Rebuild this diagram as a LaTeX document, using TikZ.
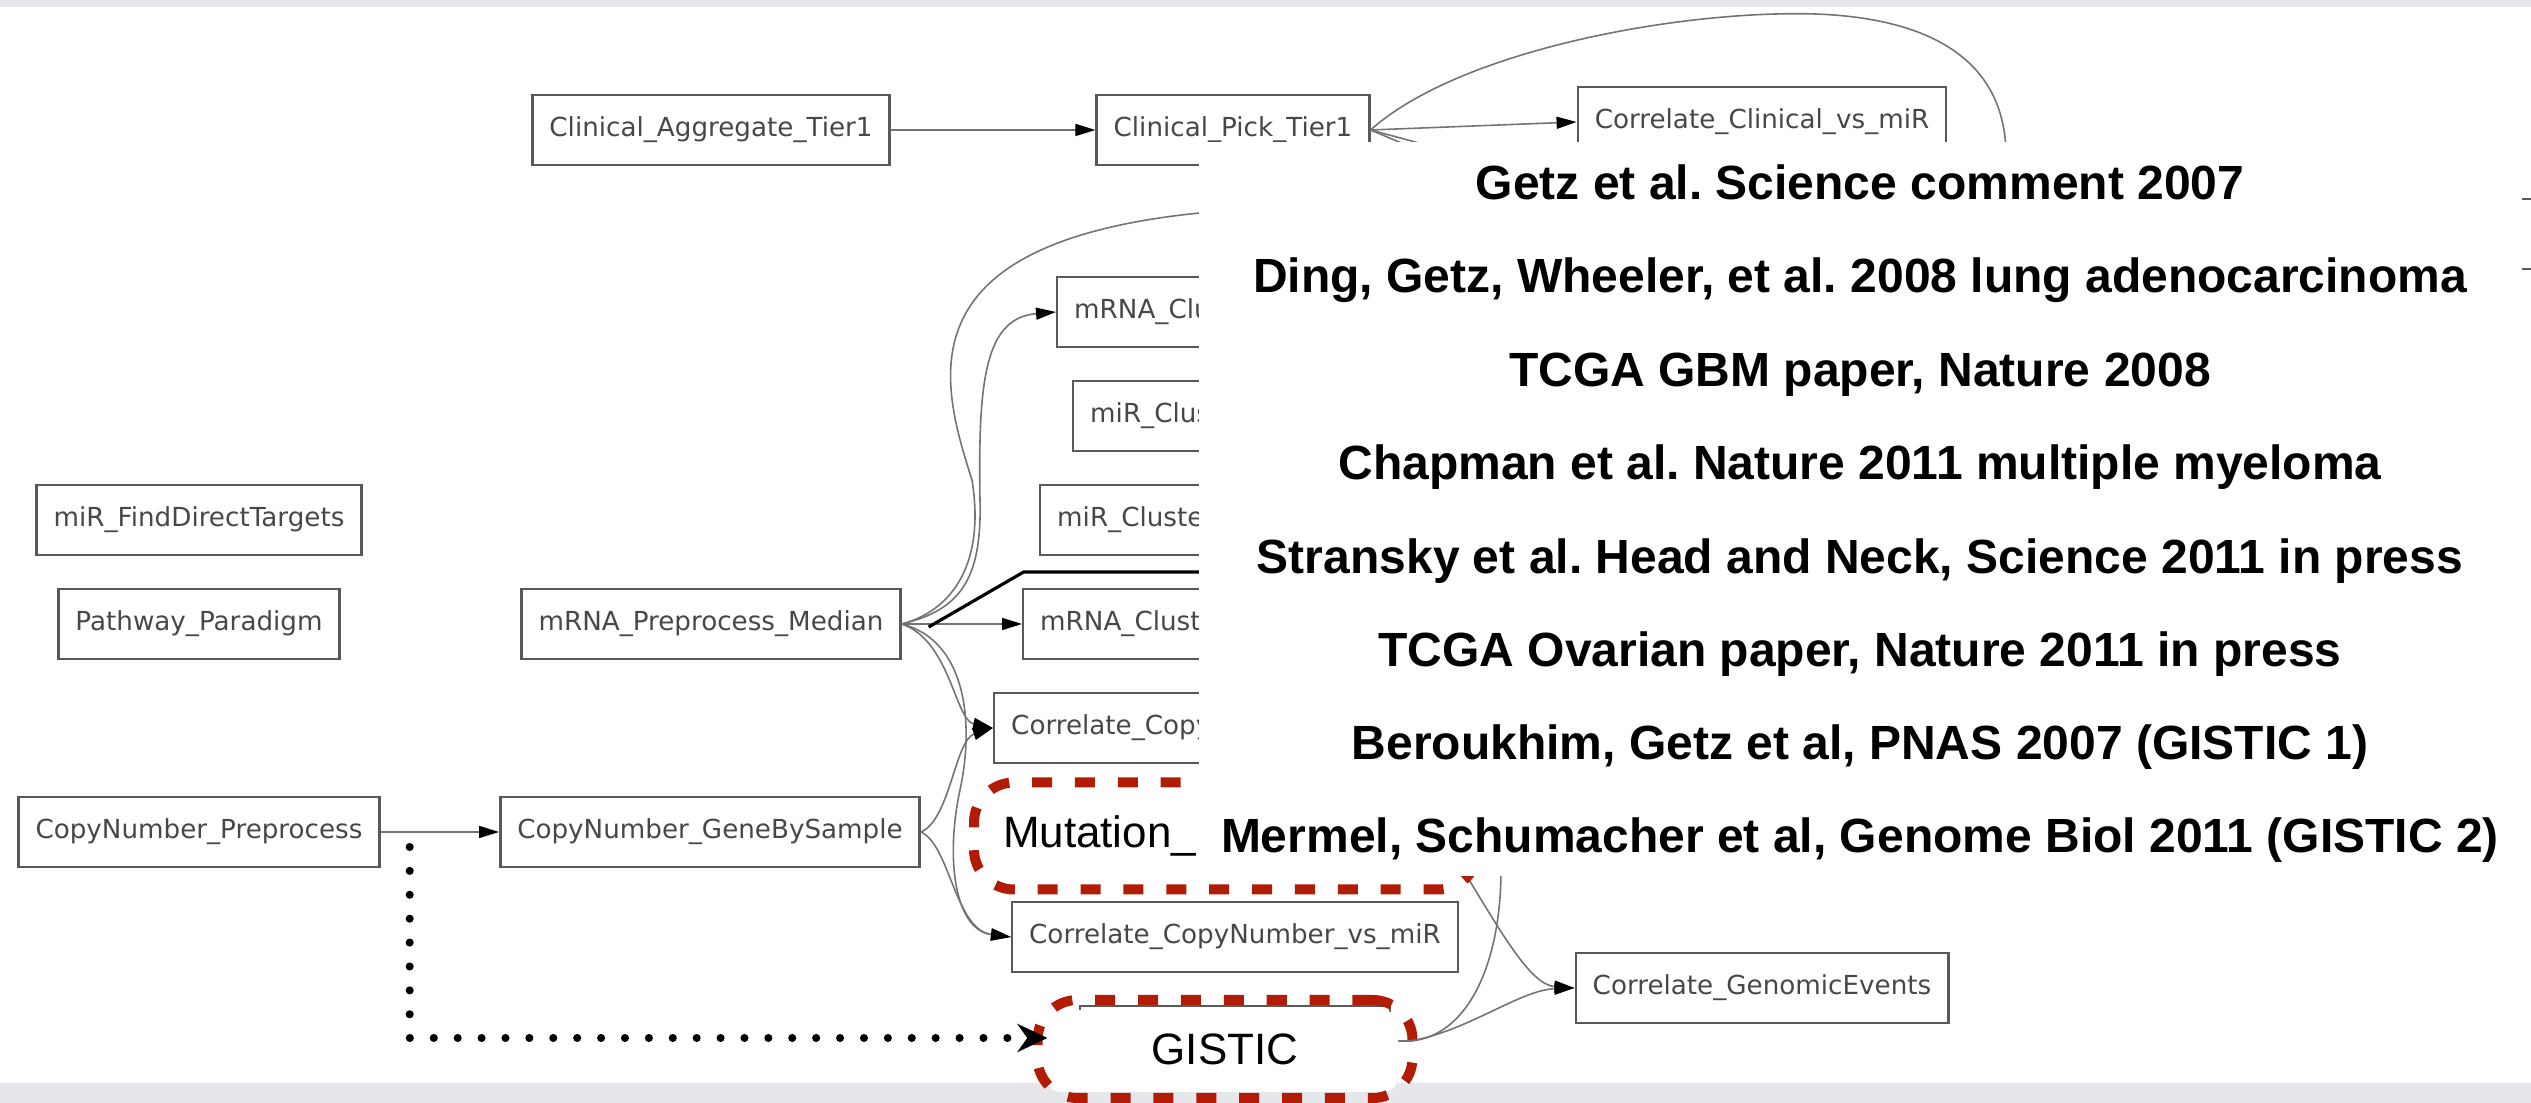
\documentclass[tikz,border=0pt]{standalone}
\usepackage{fontspec}
\newfontfamily\gvfont{DejaVu Sans}
\newfontfamily\kfont{Liberation Sans}
\usetikzlibrary{arrows.meta, calc}
\definecolor{markred}{RGB}{178,28,4}
\definecolor{bandgray}{RGB}{229,231,235}
\frenchspacing

\begin{document}
\begin{tikzpicture}[x=0.1mm, y=-0.1mm,
  gvbox/.style={draw=black!65, line width=0.7pt, minimum height=7mm, inner xsep=1.7mm, inner ysep=0pt, font=\gvfont\fontsize{7.45}{9}\selectfont, text=black!72},
  cutbox/.style={gvbox, anchor=west, text width=36mm, align=left},
  link/.style={draw=black!55, line width=0.45pt},
  arr/.style={link, -{Triangle[length=2mm, width=1.2mm, color=black]}},
  pointer/.style={draw=black, line width=0.9pt},
  markbox/.style={draw=markred, line width=2.85pt, dash pattern=on 5.7pt off 6.5pt, rounded corners=4mm, font=\kfont\fontsize{12.5}{15}\selectfont},
  dotarrow/.style={draw=black, line width=2.3pt, line cap=round, dash pattern=on 0pt off 6.8pt, -{Stealth[length=3mm, width=2.8mm]}},
  citeline/.style={anchor=base, inner sep=0pt, font=\kfont\bfseries\fontsize{13.66}{16}\selectfont},
]
\useasboundingbox (0,0) rectangle (2531,1103);
\clip (0,0) rectangle (2531,1103);

% Slide bands
\fill[bandgray] (0,0) rectangle (2531,7);
\fill[bandgray] (0,1083) rectangle (2531,1103);

% Pipeline nodes
\node[gvbox] (cagg) at (711,130) {Clinical\_Aggregate\_Tier1};
\node[gvbox] (cpick) at (1233,130) {Clinical\_Pick\_Tier1};
\node[gvbox] (ccmir) at (1762,122) {Correlate\_Clinical\_vs\_miR};
\node[gvbox] (findt) at (199,520) {miR\_FindDirectTargets};
\node[gvbox] (pathw) at (199,624) {Pathway\_Paradigm};
\node[gvbox] (mrnapre) at (711,624) {mRNA\_Preprocess\_Median};
\node[gvbox] (cnpre) at (199,832) {CopyNumber\_Preprocess};
\node[gvbox] (cngbs) at (710,832) {CopyNumber\_GeneBySample};
\node[gvbox] (cccmir) at (1235,937) {Correlate\_CopyNumber\_vs\_miR};
\node[gvbox] (cgenev) at (1762,988) {Correlate\_GenomicEvents};
\node[gvbox, minimum width=31mm] (gisticbox) at (1235,1041) {};
\node[gvbox, minimum width=31mm] (rightbox) at (2645,234) {};

% Nodes cut by the citation panel
\node[cutbox] (mrnacl) at (1056,312) {mRNA\_Clu};
\node[cutbox] (mirclus) at (1072,416) {miR\_Clus};
\node[cutbox] (mircluste) at (1039,520) {miR\_Cluste};
\node[cutbox] (mrnaclust) at (1022,624) {mRNA\_Clust};
\node[cutbox] (ccopy) at (993,728) {Correlate\_Copy};

% Hidden ends
\coordinate (loopend) at (2006,160);
\coordinate (cpdown1) at (1418,150);
\coordinate (cpdown2) at (1445,150);
\coordinate (mrnaup) at (1210,212);
\coordinate (ptrend) at (1210,572);
\coordinate (mutout) at (1463,870);
\coordinate (gisticup) at (1501,870);

% Clinical edges
\draw[arr] (cagg) -- (cpick);
\draw[arr] (cpick.east) -- (ccmir.west);
\draw[link] (cpick.east) .. controls (1460,50) and (1680,10) .. (1815,14) .. controls (1930,18) and (2008,60) .. (loopend);
\draw[link] (cpick.east) -- (cpdown1);
\draw[link] (cpick.east) -- (cpdown2);

% mRNA edges
\draw[link] (mrnapre.east) .. controls (955,610) and (985,560) .. (972,480) .. controls (940,380) and (900,240) .. (mrnaup);
\draw[arr] (mrnapre.east) .. controls (960,610) and (982,580) .. (980,500) .. controls (978,380) and (985,318) .. (mrnacl.west);
\draw[arr] (mrnapre) -- (mrnaclust);
\draw[arr] (mrnapre.east) .. controls (950,640) and (955,720) .. (ccopy.west);
\draw[arr] (mrnapre.east) .. controls (965,640) and (975,720) .. (960,790) .. controls (945,860) and (955,930) .. (cccmir.west);

% Copy number edges
\draw[arr] (cnpre) -- (cngbs);
\draw[arr] (cngbs.east) .. controls (950,820) and (955,740) .. (ccopy.west);
\draw[arr] (cngbs.east) .. controls (950,845) and (955,930) .. (cccmir.west);

% Genomic events edges
\draw[arr] (mutout) .. controls (1500,930) and (1530,985) .. (cgenev.west);
\draw[arr] (gisticbox.east) -- ++(20,0) .. controls (1470,1030) and (1520,990) .. (cgenev.west);
\draw[link] (gisticbox.east) -- ++(20,0) .. controls (1470,1035) and (1501,960) .. (gisticup);

% Pointer line
\draw[pointer] ($(mrnapre.east)+(27,3)$) -- ($(mrnapre.east)+(122,-52)$) -- (ptrend);

% Marked boxes
\node[markbox, fill=white, minimum height=10.7mm, text width=44.6mm, inner xsep=2.9mm, align=left] (mutation) at (1226,836) {Mutation\_};
\fill[white, rounded corners=1.5mm] (1046,1010) rectangle (1398,1092);
\node[markbox, minimum width=37.5mm, minimum height=9.8mm] (gistic) at (1225,1049) {GISTIC};

% Citation panel
\fill[white] (1199,142) rectangle (2522,876);
\node[citeline] (c1) at (1860,200) {Getz et al. Science comment 2007};
\node[citeline] (c2) at (1860,293) {Ding, Getz, Wheeler, et al. 2008 lung adenocarcinoma};
\node[citeline] (c3) at (1860,387) {TCGA GBM paper, Nature 2008};
\node[citeline] (c4) at (1860,480) {Chapman et al. Nature 2011 multiple myeloma};
\node[citeline] (c5) at (1860,574) {Stransky et al. Head and Neck, Science 2011 in press};
\node[citeline] (c6) at (1860,667) {TCGA Ovarian paper, Nature 2011 in press};
\node[citeline] (c7) at (1860,760) {Beroukhim, Getz et al, PNAS 2007 (GISTIC 1)};
\node[citeline] (c8) at (1860,853) {Mermel, Schumacher et al, Genome Biol 2011 (GISTIC 2)};

% Dotted arrow to GISTIC
\draw[dotarrow] ($(cnpre.east)+(29,15)$) |- ($(gistic.west)+(15,-11)$);
\end{tikzpicture}
\end{document}
